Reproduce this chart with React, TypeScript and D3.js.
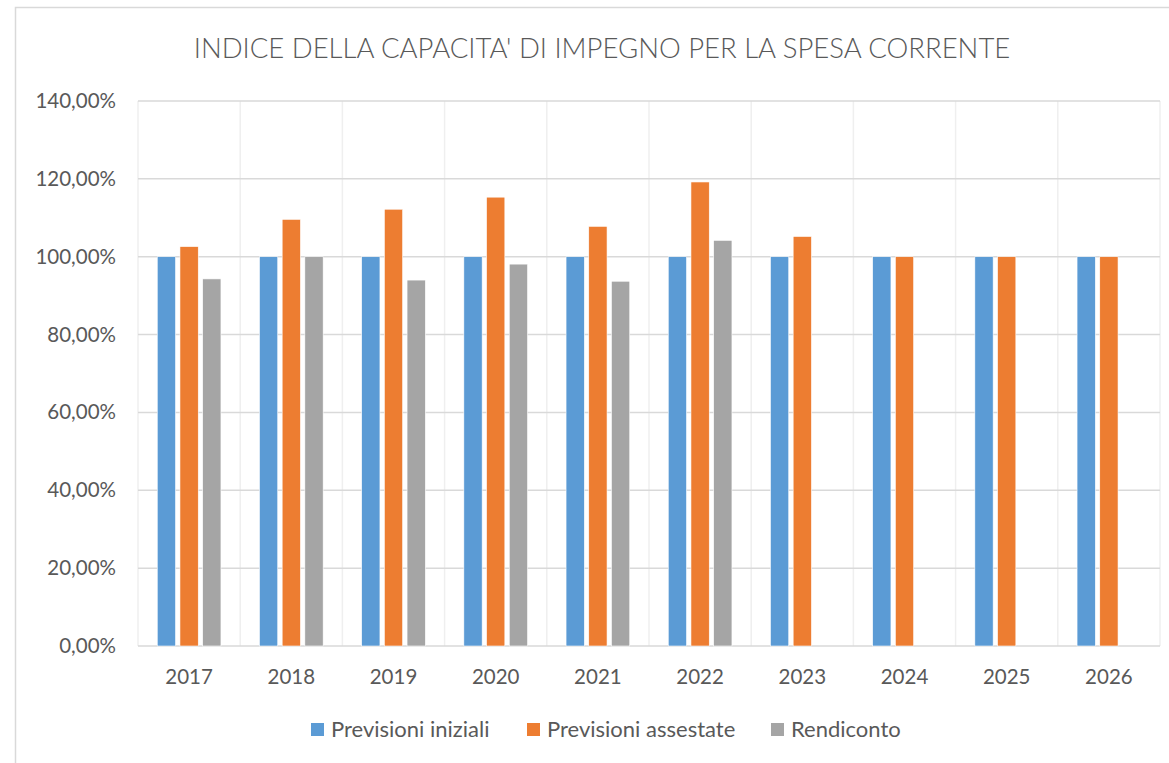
import React, { useEffect, useRef } from 'react';
import * as d3 from 'd3';

const years = ['2017', '2018', '2019', '2020', '2021', '2022', '2023', '2024', '2025', '2026'];
const seriesNames = ['Previsioni iniziali', 'Previsioni assestate', 'Rendiconto'];
const previsioniIniziali = [100, 100, 100, 100, 100, 100, 100, 100, 100, 100];
const previsioniAssestate = [102.6, 109.6, 112.2, 115.3, 107.8, 119.2, 105.2, 100, 100, 100];
const rendiconto: (number | null)[] = [94.3, 100, 94.0, 98.1, 93.7, 104.2, null, null, null, null];
const yTicks = [0, 20, 40, 60, 80, 100, 120, 140];
const colors = ['#5B9BD5', '#ED7D31', '#A5A5A5'];

const App: React.FC = () => {
  const svgRef = useRef<SVGSVGElement>(null);

  useEffect(() => {
    if (!svgRef.current) return;
    const svg = d3.select(svgRef.current);
    svg.selectAll('*').remove();

    const font = 'Lato, Calibri, sans-serif';
    const textColor = '#595959';
    const left = 138, right = 1160, top = 101, bottom = 646;

    // outer frame
    svg.append('rect')
      .attr('x', 15.5).attr('y', 7.5)
      .attr('width', 1170).attr('height', 780)
      .attr('fill', 'white')
      .attr('stroke', '#d9d9d9')
      .attr('stroke-width', 1.5);

    const x = d3.scaleBand<string>().domain(years).range([left, right]);
    const inner = d3.scaleBand<string>()
      .domain(seriesNames)
      .range([-31.85, 31.85])
      .paddingInner(0.194);
    const y = d3.scaleLinear().domain([0, 140]).range([bottom, top]);

    // vertical gridlines
    const vLines = [...years.map(d => x(d)!), right];
    svg.append('g').selectAll('line').data(vLines).join('line')
      .attr('x1', d => d).attr('x2', d => d)
      .attr('y1', top).attr('y2', bottom)
      .attr('stroke', '#efefef').attr('stroke-width', 1.5);

    // horizontal gridlines
    svg.append('g').selectAll('line').data(yTicks).join('line')
      .attr('x1', left).attr('x2', right)
      .attr('y1', d => y(d)).attr('y2', d => y(d))
      .attr('stroke', '#d9d9d9').attr('stroke-width', 1.5);

    // y labels
    svg.append('g').selectAll('text').data(yTicks).join('text')
      .attr('x', 116).attr('y', d => y(d) + 7)
      .attr('text-anchor', 'end')
      .attr('font-family', font).attr('font-size', 20.5)
      .attr('fill', textColor)
      .text(d => d3.format('.2f')(d).replace('.', ',') + '%');

    // bars
    const all = [previsioniIniziali, previsioniAssestate, rendiconto];
    seriesNames.forEach((name, si) => {
      const vals = all[si];
      svg.append('g').selectAll('rect')
        .data(years.map((yr, i) => ({ yr, v: vals[i] })).filter(d => d.v != null))
        .join('rect')
        .attr('x', d => x(d.yr)! + x.bandwidth() / 2 + inner(name)!)
        .attr('y', d => y(d.v as number))
        .attr('width', inner.bandwidth())
        .attr('height', d => bottom - y(d.v as number))
        .attr('fill', colors[si])
        .attr('stroke', 'white').attr('stroke-width', 0.6);
    });

    // x labels
    svg.append('g').selectAll('text').data(years).join('text')
      .attr('x', d => x(d)! + x.bandwidth() / 2)
      .attr('y', 684)
      .attr('text-anchor', 'middle')
      .attr('font-family', font).attr('font-size', 20.5)
      .attr('fill', textColor)
      .text(d => d);

    // title
    svg.append('text')
      .attr('x', 602).attr('y', 58)
      .attr('text-anchor', 'middle')
      .attr('font-family', font).attr('font-size', 27.5)
      .attr('font-weight', 300)
      .attr('fill', textColor)
      .text("INDICE DELLA CAPACITA' DI IMPEGNO PER LA SPESA CORRENTE");

    // legend
    const legendX = [311, 527, 771];
    const legend = svg.append('g');
    seriesNames.forEach((name, i) => {
      legend.append('rect')
        .attr('x', legendX[i]).attr('y', 723)
        .attr('width', 13).attr('height', 13)
        .attr('fill', colors[i]);
      legend.append('text')
        .attr('x', legendX[i] + 20).attr('y', 737)
        .attr('font-family', font).attr('font-size', 22)
        .attr('fill', textColor)
        .text(name);
    });
  }, []);

  return (
    <svg
      ref={svgRef}
      width={1169}
      height={763}
      style={{ position: 'absolute', left: 0, top: 0, background: 'white' }}
    />
  );
};

export default App;
